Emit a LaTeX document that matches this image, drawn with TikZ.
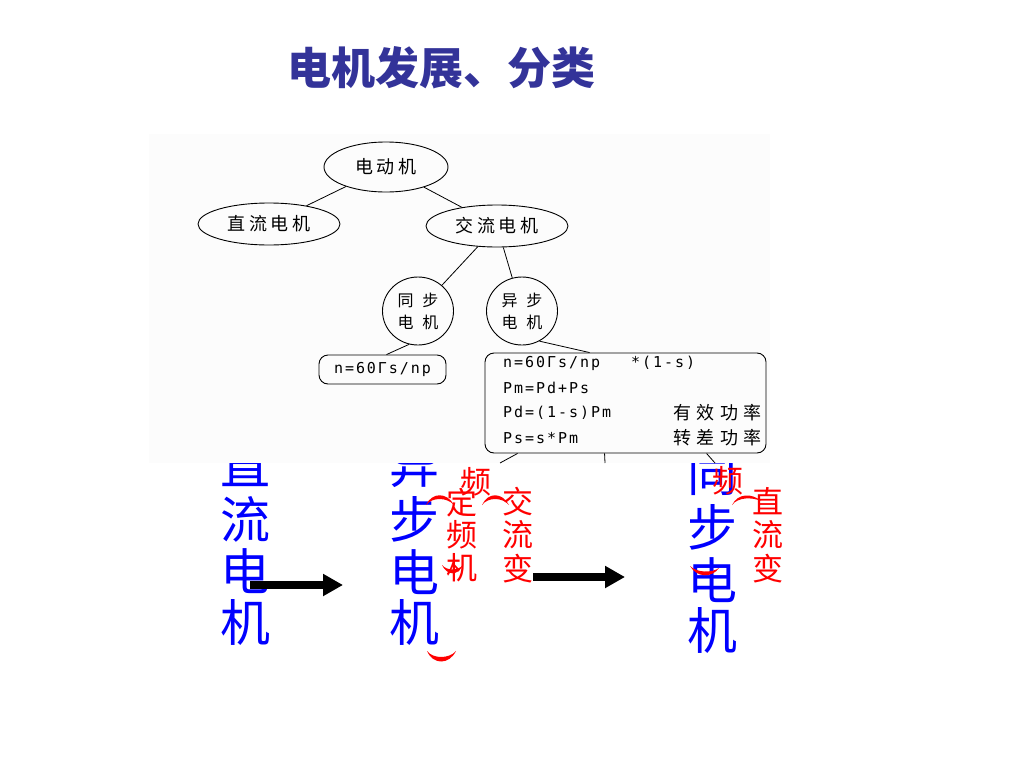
\documentclass[tikz,border=0pt]{standalone}
\usepackage{fontspec}
\usetikzlibrary{shapes.geometric,arrows.meta,calc}
\newfontfamily\cjk{Noto Sans CJK SC}
\newfontfamily\monof{DejaVu Sans Mono}
\definecolor{titleblue}{RGB}{51,51,153}
\definecolor{imgbg}{RGB}{252,252,252}
\definecolor{pureblue}{RGB}{0,0,255}
\definecolor{purered}{RGB}{255,0,0}
\begin{document}
\begin{tikzpicture}[x=1pt,y=-1pt,
  bigblue/.style={text=pureblue, font=\cjk\fontsize{50}{50}\selectfont, inner sep=0pt},
  redtxt/.style={text=purered, font=\cjk\fontsize{31}{31}\selectfont, inner sep=0pt},
  treeell/.style={draw, ellipse, line width=0.9pt, inner sep=0pt,
    font=\cjk\fontsize{18}{18}\selectfont\addfontfeature{LetterSpace=22}},
  treecirc/.style={draw, ellipse, line width=0.9pt, inner sep=0pt, align=center,
    minimum width=71pt, minimum height=68pt,
    font=\cjk\fontsize{16}{22}\selectfont\addfontfeature{LetterSpace=55}},
  fbox/.style={draw, rounded corners=9pt, line width=0.9pt, inner sep=0pt},
  formula/.style={inner sep=0pt, anchor=west,
    font=\monof\fontsize{15}{15}\selectfont\addfontfeature{LetterSpace=13}},
  cntext/.style={inner sep=0pt, anchor=east,
    font=\cjk\fontsize{18}{18}\selectfont\addfontfeature{LetterSpace=30}},
  edge/.style={line width=0.8pt},
  bigarrow/.style={line width=8pt, -{Triangle[length=20pt,width=21pt]}},
  crescent/.style={fill=purered}
]
\useasboundingbox (0,0) rectangle (1024,768);
\fill[white] (0,0) rectangle (1024,768);

% title
\node[text=titleblue, font=\cjk\bfseries\fontsize{44}{44}\selectfont, inner sep=0pt] (title) at (441,68) {电机发展、分类};

% blue columns
\node[bigblue] (d1) at (245,465) {直};
\node[bigblue] (d2) at (245,519) {流};
\node[bigblue] (d3) at (245,571) {电};
\node[bigblue] (d4) at (245,622) {机};

\node[bigblue] (y1) at (414,466) {异};
\node[bigblue] (y2) at (414,519) {步};
\node[bigblue] (y3) at (414,572) {电};
\node[bigblue] (y4) at (414,622) {机};

\node[bigblue] (t1) at (712,474) {同};
\node[bigblue] (t2) at (712,527) {步};
\node[bigblue] (t3) at (712,580) {电};
\node[bigblue] (t4) at (712,630) {机};

% arrows
\coordinate (a1s) at (250,585);
\coordinate (a1e) at (343,585);
\coordinate (a2s) at (533,577);
\coordinate (a2e) at (625,577);
\draw[bigarrow] (a1s) -- (a1e);
\draw[bigarrow] (a2s) -- (a2e);

% red texts
\node[redtxt] (r1) at (476,482) {频};
\node[redtxt] (r2) at (462,503) {定};
\node[redtxt] (r3) at (462,535) {频};
\node[redtxt] (r4) at (462,568) {机};
\node[redtxt] (r5) at (518,502) {交};
\node[redtxt] (r6) at (518,535) {流};
\node[redtxt] (r7) at (518,569) {变};
\node[redtxt] (r8) at (728,481) {频};
\node[redtxt] (r9) at (768,501) {直};
\node[redtxt] (r10) at (768,535) {流};
\node[redtxt] (r11) at (768,569) {变};

% red brace arcs
\fill[crescent] (426,505) .. controls (432,492) and (447,492) .. (454,505)
  .. controls (447,497) and (432,497) .. (426,505) -- cycle;
\fill[crescent] (482,505) .. controls (488,492) and (502,492) .. (509,505)
  .. controls (502,497) and (488,497) .. (482,505) -- cycle;
\fill[crescent] (732,505) .. controls (738,493) and (752,493) .. (761,501)
  .. controls (752,497) and (738,497) .. (732,505) -- cycle;
\fill[crescent] (442,565) .. controls (447,576) and (458,576) .. (463,565)
  .. controls (458,571) and (447,571) .. (442,565) -- cycle;
\fill[crescent] (427,651) .. controls (433,665) and (449,665) .. (456,651)
  .. controls (449,659) and (433,659) .. (427,651) -- cycle;
\fill[crescent] (690,566) .. controls (697,578) and (712,578) .. (719,568)
  .. controls (712,573) and (697,573) .. (690,566) -- cycle;

% image area of the tree (covers tops of the blue characters)
\fill[imgbg] (149,134) rectangle (770,463);

\node[treeell, minimum width=124pt, minimum height=50pt] (motor) at (386,167) {电动机};
\node[treeell, minimum width=142pt, minimum height=42pt] (dc) at (269,224) {直流电机};
\node[treeell, minimum width=142pt, minimum height=42pt] (ac) at (497,226) {交流电机};
\node[treecirc] (syn) at (418,311) {同步\\电机};
\node[treecirc] (asy) at (522,311) {异步\\电机};

\node[fbox, minimum width=127pt, minimum height=29pt] (box1) at (382.5,369.5) {};
\node[formula, anchor=center] (f0) at (box1.center) {n=60Γs/np};

\node[fbox, minimum width=281pt, minimum height=100pt] (box2) at (625.5,403) {};
\node[formula] (f1) at (503,363) {n=60Γs/np};
\node[formula] (f1b) at (631,363) {*(1-s)};
\node[formula] (f2) at (503,388) {Pm=Pd+Ps};
\node[formula] (f3) at (503,413) {Pd=(1-s)Pm};
\node[cntext] (c3) at (762,413) {有效功率};
\node[formula] (f4) at (503,438) {Ps=s*Pm};
\node[cntext] (c4) at (762,438) {转差功率};

\draw[edge] (motor) -- (dc);
\draw[edge] (motor) -- (ac);
\draw[edge] (ac) -- (syn);
\draw[edge] (ac) -- (asy);
\draw[edge] (syn.255) -- ($(box1.north)+(4,0)$);
\draw[edge] (asy.300) -- ($(box2.north west)+(105,0)$);

\coordinate (e1) at (500,463);
\coordinate (e2) at (605,463);
\coordinate (e3) at (715,463);
\draw[edge] ($(box2.south west)+(33,0)$) -- (e1);
\draw[edge] ($(box2.south west)+(120,0)$) -- (e2);
\draw[edge] ($(box2.south west)+(222,0)$) -- (e3);
\end{tikzpicture}
\end{document}
